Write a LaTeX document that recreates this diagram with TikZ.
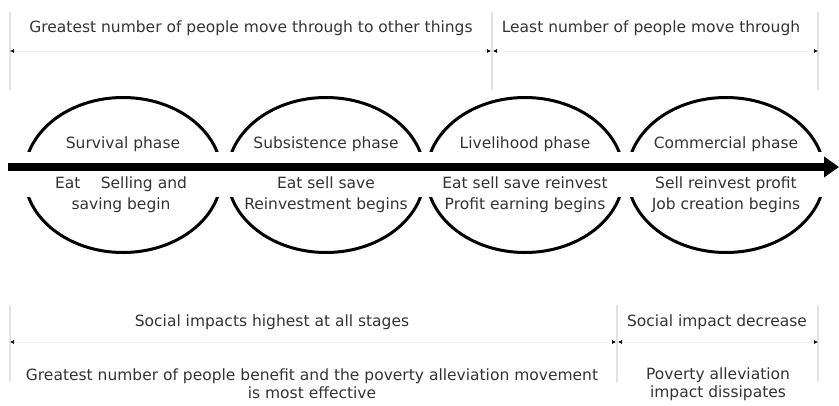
\documentclass[tikz,border=0pt]{standalone}
\usepackage{fontspec}
\setmainfont{DejaVu Sans}
\usepackage{tikz}
\usetikzlibrary{shapes.geometric, arrows.meta, positioning, calc}
\definecolor{guide}{RGB}{225, 225, 225}
\tikzstyle{phase} = [ellipse, draw=black, line width=3pt, minimum width=197pt, minimum height=155pt, inner sep=0pt]
\tikzstyle{label} = [font=\fontsize{15.5}{18}\selectfont, text=black!80, align=center, inner sep=1pt]
\tikzstyle{activity} = [label, font=\fontsize{15.5}{21}\selectfont]
\tikzstyle{guideline} = [guide, line width=1.2pt]
\tikzstyle{span} = [guide!40, line width=0.6pt, {Latex[length=4pt, width=4pt, black]}-{Latex[length=4pt, width=4pt, black]}]

\begin{document}
\begin{tikzpicture}[x=1pt, y=-1pt]
    \useasboundingbox (0,0) rectangle (839,405);

    % Phase ellipses
    \node[phase] (survival) at (123, 175) {};
    \node[phase] (subsistence) at (326, 175) {};
    \node[phase] (livelihood) at (525, 175) {};
    \node[phase] (commercial) at (726, 175) {};
    \fill[white] (15, 152) rectangle (832, 197);

    % Timeline
    \coordinate (start) at (8, 167);
    \coordinate (finish) at (839, 167);
    \draw[line width=8pt, -{Triangle[length=15pt, width=20pt]}] (start) -- (finish);

    % Phase names
    \node[label] at (123, 144) {Survival phase};
    \node[label] at (326, 144) {Subsistence phase};
    \node[label] at (525, 144) {Livelihood phase};
    \node[label] at (726, 144) {Commercial phase};

    % What happens in each phase
    \node[activity] at (121, 195) {Eat \quad Selling and\\saving begin};
    \node[activity] at (326, 195) {Eat sell save\\Reinvestment begins};
    \node[activity] at (525, 195) {Eat sell save reinvest\\Profit earning begins};
    \node[activity] at (726, 195) {Sell reinvest profit\\Job creation begins};

    % Top spans
    \coordinate (t1) at (10, 51);
    \coordinate (t2) at (491, 51);
    \coordinate (t3) at (493, 51);
    \coordinate (t4) at (818, 51);
    \draw[guideline] (10, 12) -- (10, 90);
    \draw[guideline] (492, 12) -- (492, 90);
    \draw[guideline] (818, 12) -- (818, 90);
    \draw[span] (t1) -- (t2);
    \draw[span] (t3) -- (t4);
    \node[label] at (251, 28) {Greatest number of people move through to other things};
    \node[label] at (651, 28) {Least number of people move through};

    % Bottom spans
    \coordinate (b1) at (10, 342);
    \coordinate (b2) at (616, 342);
    \coordinate (b3) at (618, 342);
    \coordinate (b4) at (818, 342);
    \draw[guideline] (10, 305) -- (10, 382);
    \draw[guideline] (617, 305) -- (617, 382);
    \draw[guideline] (818, 305) -- (818, 382);
    \draw[span] (b1) -- (b2);
    \draw[span] (b3) -- (b4);
    \node[label] at (272, 322) {Social impacts highest at all stages};
    \node[label] at (717, 322) {Social impact decrease};
    \node[label] at (312, 384) {Greatest number of people benefit and the poverty alleviation movement\\is most effective};
    \node[label] at (718, 384) {Poverty alleviation\\impact dissipates};
\end{tikzpicture}
\end{document}
